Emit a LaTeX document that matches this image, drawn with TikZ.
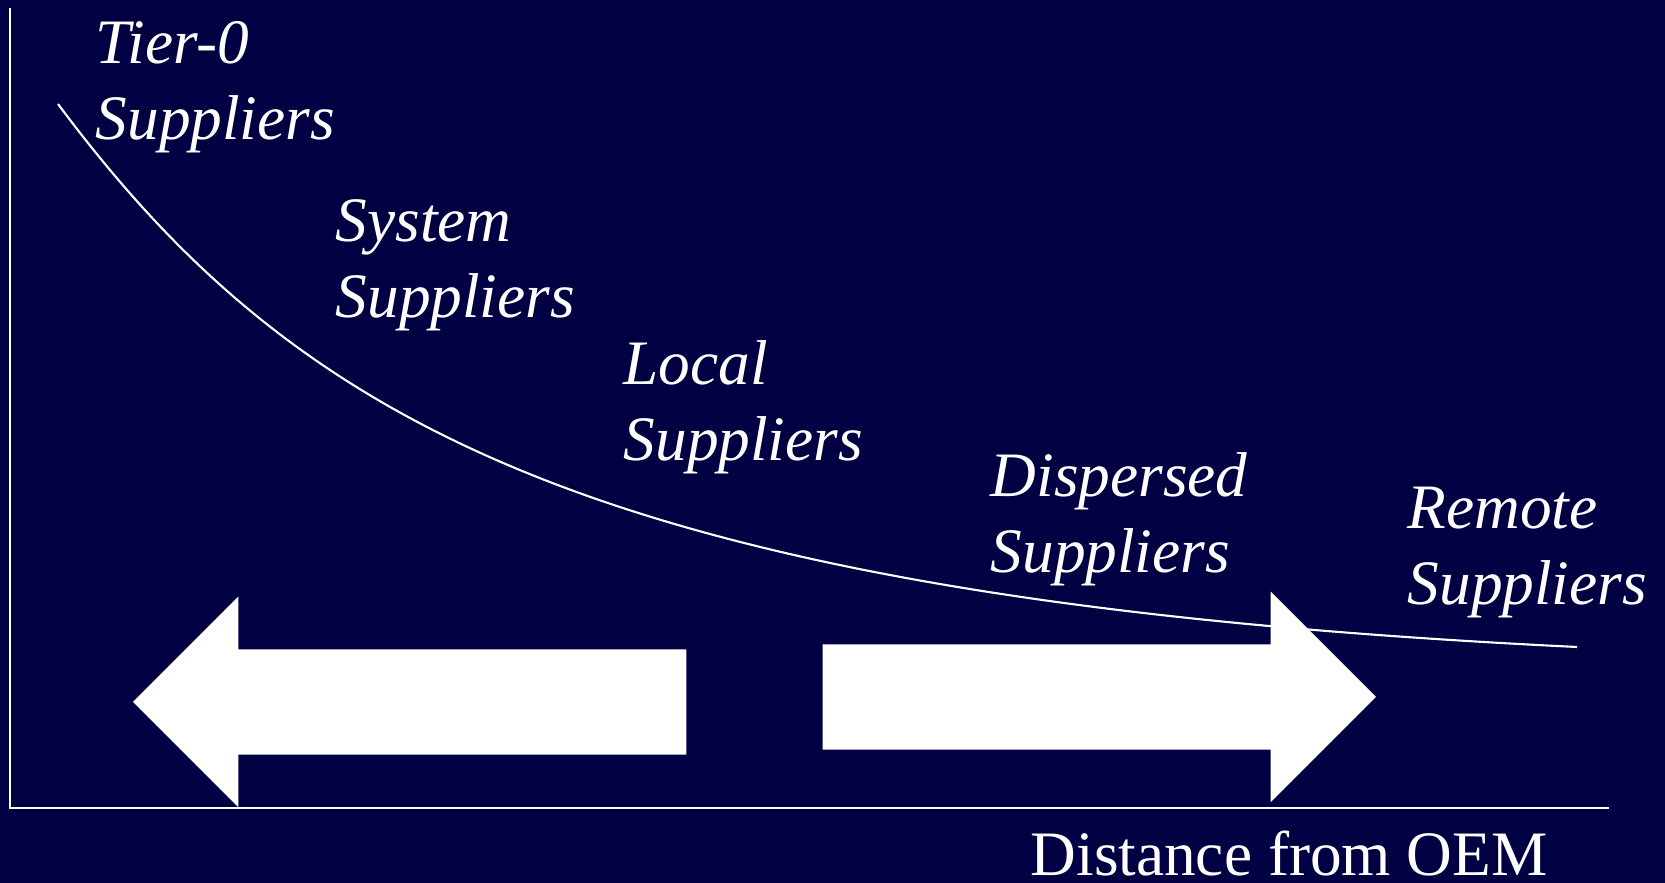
\documentclass[tikz,border=0pt]{standalone}
\usepackage{fontspec}
\setmainfont{Liberation Serif}
\usetikzlibrary{shapes.arrows}
\definecolor{navy}{RGB}{0,0,66}

\begin{document}
\begin{tikzpicture}[
  x=0.01cm, y=-0.01cm,
  axis/.style={white, line width=0.6pt},
  curve/.style={white, line width=0.6pt},
  tier/.style={text=white, font=\fontsize{18}{21.8}\selectfont\itshape, align=left, inner sep=0pt, anchor=base west},
  bigarrow/.style={single arrow, fill=white, draw=none, inner xsep=0pt, inner ysep=0.52cm, outer sep=0pt,
    minimum height=5.53cm, single arrow head extend=0.525cm, anchor=tip}
]
\fill[navy] (0,0) rectangle (1665,883);
\useasboundingbox (0,0) rectangle (1665,883);

\coordinate (top) at (10,8);
\coordinate (origin) at (10,808);
\coordinate (right) at (1609,808);
\draw[axis] (top) -- (origin) -- (right);

% decline curve
\coordinate (near) at (58,104);
\coordinate (far) at (1577,647);
\draw[curve] (near) .. controls (298,426) and (600,600) .. (far);

\node[bigarrow, shape border rotate=180] (inward) at (133,702) {};
\node[bigarrow] (outward) at (1376,697) {};

% base is the baseline of the last line
\node[tier] (tier0) at (95,140) {Tier-0\\Suppliers};
\node[tier] (system) at (335,318) {System\\Suppliers};
\node[tier] (local) at (623,461) {Local\\Suppliers};
\node[tier] (dispersed) at (990,573) {Dispersed\\Suppliers};
\node[tier] (remote) at (1407,605) {Remote\\Suppliers};
\node[text=white, font=\fontsize{18}{21.8}\selectfont, inner sep=0pt, anchor=base west] (distance) at (1030,876) {Distance from OEM};
\end{tikzpicture}
\end{document}
